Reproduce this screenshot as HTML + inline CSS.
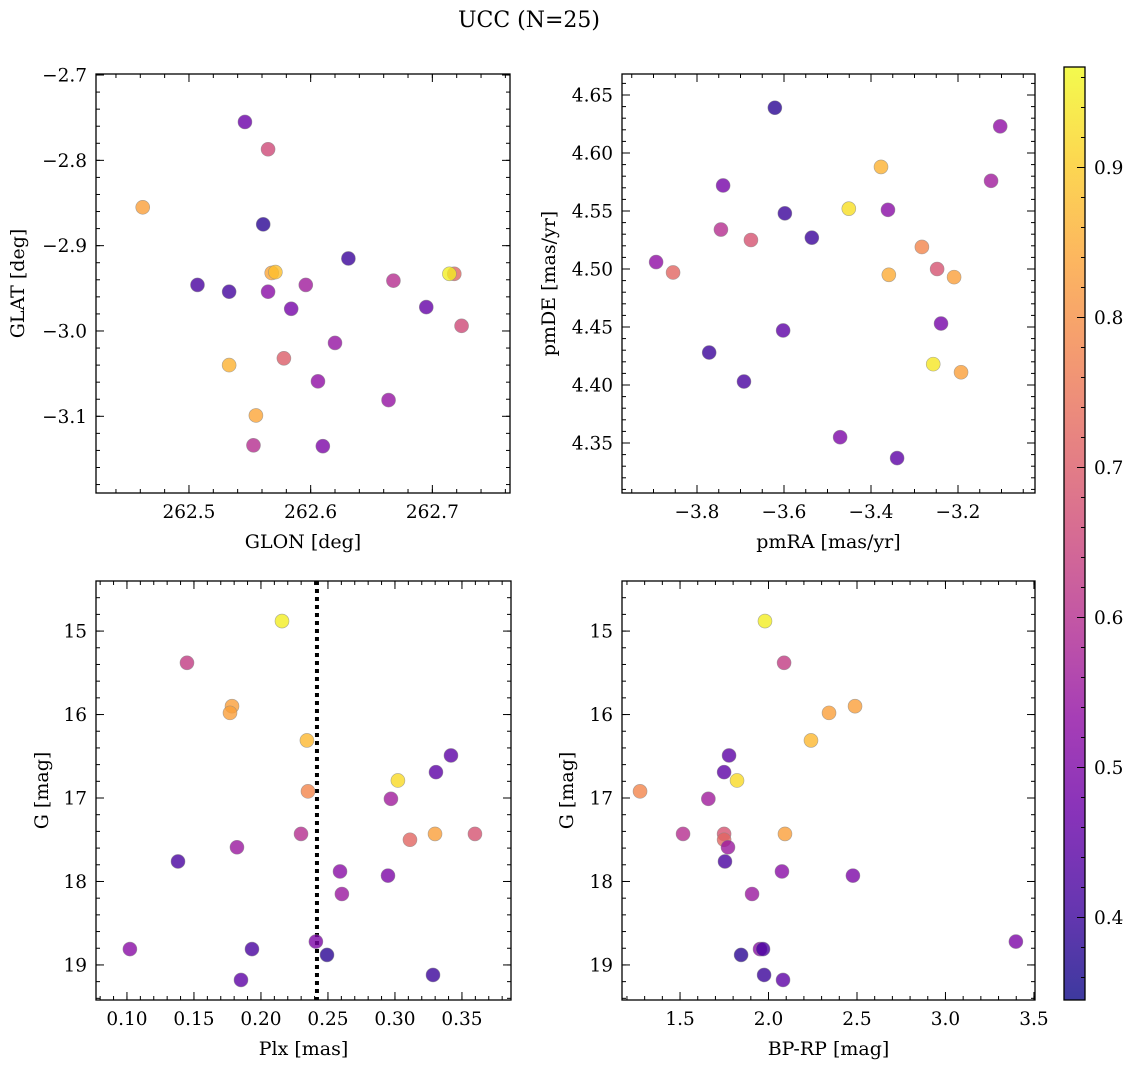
<!DOCTYPE html>
<html><head><meta charset="utf-8">
<style>
html,body{margin:0;padding:0;background:#fff;}
svg{display:block;font-family:"DejaVu Serif","Liberation Serif",serif;}
</style></head>
<body>
<svg id="fig" width="1136" height="1068" viewBox="0 0 1136 1068" xmlns="http://www.w3.org/2000/svg">
<text x="529" y="27" font-size="22" text-anchor="middle">UCC (N=25)</text>
</svg>
<script>
// ---- data: top-left (GLON/GLAT) ----
const glon = [262.546,262.565,262.462,262.561,262.631,262.507,262.533,262.565,262.568,262.571,262.596,262.584,262.668,262.718,262.714,262.695,262.724,262.620,262.533,262.578,262.606,262.664,262.555,262.553,262.610];
const glat = [-2.755,-2.787,-2.855,-2.875,-2.915,-2.946,-2.954,-2.954,-2.932,-2.931,-2.946,-2.974,-2.941,-2.933,-2.933,-2.972,-2.994,-3.014,-3.040,-3.032,-3.059,-3.081,-3.099,-3.134,-3.135];
const probTop1 = [0.47,0.66,0.83,0.38,0.40,0.42,0.41,0.52,0.84,0.88,0.56,0.49,0.60,0.72,0.95,0.46,0.66,0.54,0.86,0.70,0.53,0.54,0.84,0.60,0.50];
// ---- data: top-right (pmRA/pmDE) ----
const pmra = [-3.621,-3.103,-3.377,-3.740,-3.124,-3.451,-3.361,-3.598,-3.536,-3.745,-3.676,-3.894,-3.855,-3.283,-3.248,-3.209,-3.359,-3.239,-3.602,-3.772,-3.692,-3.257,-3.193,-3.471,-3.340];
const pmde = [4.639,4.623,4.588,4.572,4.576,4.552,4.551,4.548,4.527,4.534,4.525,4.506,4.497,4.519,4.500,4.493,4.495,4.453,4.447,4.428,4.403,4.418,4.411,4.355,4.337];
const probTop2 = [0.38,0.53,0.86,0.49,0.56,0.93,0.52,0.40,0.40,0.60,0.68,0.53,0.72,0.78,0.68,0.83,0.85,0.49,0.45,0.40,0.42,0.94,0.83,0.50,0.45];
// ---- data: bottom (Plx, G, BP-RP) ----
const plx = [0.2157,0.1448,0.1784,0.1769,0.2343,0.3418,0.3306,0.3022,0.2351,0.2970,0.2299,0.3299,0.3597,0.3112,0.1821,0.1381,0.2590,0.2948,0.2604,0.2410,0.1022,0.1933,0.2493,0.3284,0.1851];
const gmag = [14.88,15.38,15.90,15.98,16.31,16.49,16.69,16.79,16.92,17.01,17.43,17.43,17.43,17.50,17.59,17.76,17.88,17.93,18.15,18.72,18.81,18.81,18.88,19.12,19.18];
const bprp = [1.980,2.088,2.489,2.342,2.240,1.777,1.749,1.822,1.274,1.660,1.517,2.093,1.749,1.749,1.771,1.754,2.076,2.477,1.907,3.398,1.952,1.969,1.845,1.975,2.082];
const probBot = [0.95,0.63,0.83,0.83,0.87,0.45,0.45,0.92,0.78,0.56,0.60,0.83,0.68,0.72,0.55,0.42,0.52,0.50,0.55,0.50,0.52,0.42,0.38,0.40,0.45];
const plxLine = [0.2418];
// ---- ticks ----
const tlXTicks = [262.5,262.6,262.7], tlYTicks = [-2.7,-2.8,-2.9,-3.0,-3.1];
const trXTicks = [-3.8,-3.6,-3.4,-3.2], trYTicks = [4.65,4.60,4.55,4.50,4.45,4.40,4.35];
const blXTicks = [0.10,0.15,0.20,0.25,0.30,0.35], gTicks = [15,16,17,18,19];
const brXTicks = [1.5,2.0,2.5,3.0,3.5];
const cbTicks = [0.4,0.5,0.6,0.7,0.8,0.9];
const cbMin = 0.345, cbMax = 0.967;

const NS = "http://www.w3.org/2000/svg";
const svg = document.getElementById('fig');
const FS = 18.5, FL = 19;
function mk(tag, attrs, parent){const e=document.createElementNS(NS,tag);for(const k in attrs)e.setAttribute(k,attrs[k]);(parent||svg).appendChild(e);return e;}
const stops=[[13,8,135],[65,4,157],[106,0,168],[143,13,164],[177,42,144],[204,71,120],[225,100,98],[242,132,75],[252,166,54],[252,206,37],[240,249,33]];
function plasma(t){t=Math.max(0,Math.min(1,t));const f=t*10,i=Math.min(9,Math.floor(f)),r=f-i;const a=stops[i],b=stops[i+1];return 'rgb('+a.map((v,k)=>Math.round(v+(b[k]-v)*r)).join(',')+')';}
function pcol(p){return plasma((p-cbMin)/(cbMax-cbMin));}

function panel(o){
  const g=mk('g',{});
  
  
  const sx=v=>o.x0+(v-o.xmin)/(o.xmax-o.xmin)*(o.x1-o.x0);
  const sy=o.yinv? (v=>o.y0+(v-o.ymin)/(o.ymax-o.ymin)*(o.y1-o.y0)) : (v=>o.y1-(v-o.ymin)/(o.ymax-o.ymin)*(o.y1-o.y0));
  const tk=mk('g',{stroke:'#000','stroke-width':1},g);
  
  
  const eps=1e-9;
  for(let v=Math.ceil(o.xmin/o.xminor)*o.xminor; v<=o.xmax+eps; v+=o.xminor){const X=sx(v);mk('line',{x1:X,x2:X,y1:o.y1,y2:o.y1-4},tk);mk('line',{x1:X,x2:X,y1:o.y0,y2:o.y0+4},tk);}
  for(let v=Math.ceil(o.ymin/o.yminor)*o.yminor; v<=o.ymax+eps; v+=o.yminor){const Y=sy(v);mk('line',{x1:o.x0,x2:o.x0+4,y1:Y,y2:Y},tk);mk('line',{x1:o.x1,x2:o.x1-4,y1:Y,y2:Y},tk);}
  o.xt.forEach(v=>{const X=sx(v);mk('line',{x1:X,x2:X,y1:o.y1,y2:o.y1-8},tk);mk('line',{x1:X,x2:X,y1:o.y0,y2:o.y0+8},tk);
    const t=mk('text',{x:X,y:o.y1+25,'font-size':FS,'text-anchor':'middle'},g);t.textContent=o.fmtx(v);
    
    });
  o.yt.forEach(v=>{const Y=sy(v);mk('line',{x1:o.x0,x2:o.x0+8,y1:Y,y2:Y},tk);mk('line',{x1:o.x1,x2:o.x1-8,y1:Y,y2:Y},tk);
    const t=mk('text',{x:o.x0-9,y:Y+6.5,'font-size':FS,'text-anchor':'end'},g);t.textContent=o.fmty(v);
    
    });
  if(o.vline){o.vline.forEach(v=>{const X=sx(v);const l=mk('line',{x1:X,x2:X,y1:o.y0,y2:o.y1,stroke:'#000','stroke-width':4,'stroke-dasharray':'4 4'},g);
    
    });}
  o.xs.forEach((v,i)=>{const c=mk('circle',{cx:sx(v),cy:sy(o.ys[i]),r:7,fill:pcol(o.c[i]),'fill-opacity':0.8,stroke:'#888','stroke-width':0.6,'stroke-opacity':0.7},g);
    
    });
  const fr=mk('rect',{x:o.x0,y:o.y0,width:o.x1-o.x0,height:o.y1-o.y0,fill:'none',stroke:'#000','stroke-width':1.3},g);
  
  
  const xl=mk('text',{x:(o.x0+o.x1)/2,y:o.y1+55,'font-size':FL,'text-anchor':'middle'},g);xl.textContent=o.xlabel;
  
  
  const yx=o.ylx, yy=(o.y0+o.y1)/2;
  const yl=mk('text',{x:yx,y:yy,'font-size':FL,'text-anchor':'middle',transform:'rotate(-90 '+yx+' '+yy+')'},g);yl.textContent=o.ylabel;
  
  
}
const f1=v=>(v<0?'\u2212':'')+Math.abs(v).toFixed(1), f2=v=>(v<0?'\u2212':'')+Math.abs(v).toFixed(2), f0=v=>String(v);
panel({name:'glon-glat-panel',x0:96,x1:510,y0:74,y1:493,xmin:262.4236,xmax:262.7638,ymin:-3.1899,ymax:-2.6988,xt:tlXTicks,yt:tlYTicks,xminor:0.02,yminor:0.02,fmtx:v=>v.toFixed(1),fmty:f1,xs:glon,ys:glat,c:probTop1,xlabel:'GLON [deg]',ylabel:'GLAT [deg]',ylx:24});
panel({name:'pm-panel',x0:622,x1:1035,y0:74,y1:493,xmin:-3.9724,xmax:-3.023,ymin:4.3069,ymax:4.6681,xt:trXTicks,yt:trYTicks,xminor:0.05,yminor:0.01,fmtx:f1,fmty:f2,xs:pmra,ys:pmde,c:probTop2,xlabel:'pmRA [mas/yr]',ylabel:'pmDE [mas/yr]',ylx:555});
panel({name:'plx-g-panel',x0:96,x1:511,y0:581,y1:1000,yinv:true,xmin:0.0769,xmax:0.3866,ymin:14.40,ymax:19.42,xt:blXTicks,yt:gTicks,xminor:0.01,yminor:0.2,fmtx:f2,fmty:f0,xs:plx,ys:gmag,c:probBot,vline:plxLine,xlabel:'Plx [mas]',ylabel:'G [mag]',ylx:48});
panel({name:'cmd-panel',x0:622,x1:1035,y0:581,y1:1000,yinv:true,xmin:1.172,xmax:3.506,ymin:14.40,ymax:19.42,xt:brXTicks,yt:gTicks,xminor:0.1,yminor:0.2,fmtx:v=>v.toFixed(1),fmty:f0,xs:bprp,ys:gmag,c:probBot,xlabel:'BP-RP [mag]',ylabel:'G [mag]',ylx:573});

// colorbar
const cb=mk('g',{});


const cx0=1064,cx1=1085,cy0=67,cy1=1000;
const defs=mk('defs',{},cb);const lg=mk('linearGradient',{id:'cbg',x1:0,y1:1,x2:0,y2:0},defs);
for(let i=0;i<=20;i++){mk('stop',{offset:(i/20),'stop-color':plasma(i/20),'stop-opacity':0.8},lg);}
mk('rect',{x:cx0,y:cy0,width:cx1-cx0,height:cy1-cy0,fill:'url(#cbg)'},cb);
const cy=v=>cy1-(v-cbMin)/(cbMax-cbMin)*(cy1-cy0);
for(let v=0.36;v<=cbMax;v+=0.02){const Y=cy(v);mk('line',{x1:cx1,x2:cx1-4,y1:Y,y2:Y,stroke:'#000','stroke-width':1},cb);}
cbTicks.forEach(v=>{const Y=cy(v);mk('line',{x1:cx1,x2:cx1-8,y1:Y,y2:Y,stroke:'#000','stroke-width':1},cb);
  const t=mk('text',{x:cx1+9,y:Y+6.5,'font-size':FS},cb);t.textContent=v.toFixed(1);
  
  });
mk('rect',{x:cx0,y:cy0,width:cx1-cx0,height:cy1-cy0,fill:'none',stroke:'#000','stroke-width':1.3},cb);
</script>
</body></html>
